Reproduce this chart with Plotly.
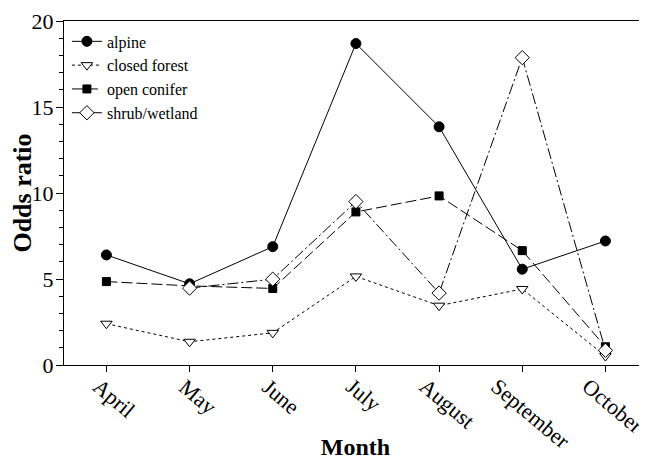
import plotly.graph_objects as go

months = ["April", "May", "June", "July", "August", "September", "October"]
alpine = [6.4, 4.72, 6.88, 18.69, 13.85, 5.57, 7.21]
closed_forest = [2.4, 1.35, 1.87, 5.15, 3.45, 4.42, 0.52]
open_conifer = [4.85, 4.6, 4.45, 8.9, 9.83, 6.65, 1.06]
shrub_wetland = [None, 4.47, 4.99, 9.5, 4.18, 17.87, 0.85]

FONT = "Liberation Serif, Times New Roman, serif"

series = [
    ("alpine", alpine, "solid", "circle", 10, "black"),
    ("closed forest", closed_forest, "dot", "triangle-down", 10, "white"),
    ("open conifer", open_conifer, "11px,4px", "square", 8, "black"),
    ("shrub/wetland", shrub_wetland, "11px,3px,2px,3px", "diamond", 11, "white"),
]

fig = go.Figure()
for name, vals, dash, sym, size, fill in series:
    fig.add_trace(go.Scatter(
        x=months, y=vals, name=name, mode="lines+markers",
        line=dict(color="black", width=1, dash=dash),
        marker=dict(symbol=sym, size=size, color=fill,
                    line=dict(color="black", width=1)),
        connectgaps=False,
    ))

# rotated month labels, centred under each tick
for m in months:
    fig.add_annotation(
        x=m, y=0, xref="x", yref="paper", text=m, showarrow=False,
        textangle=40, xanchor="center", yanchor="top", xshift=8, yshift=-6,
        font=dict(family=FONT, size=22, color="black"),
    )

fig.update_layout(
    width=639, height=458,
    margin=dict(l=56, r=0, t=13, b=101),
    paper_bgcolor="white", plot_bgcolor="white",
    font=dict(family=FONT, size=22, color="black"),
    showlegend=True,
    legend=dict(x=0.005, y=0.99, xanchor="left", yanchor="top",
                bgcolor="rgba(0,0,0,0)", font=dict(family=FONT, size=16),
                itemwidth=30, tracegroupgap=0),
    xaxis=dict(
        type="category", range=[-0.51, 6.5], automargin=False,
        showline=True, linecolor="black", linewidth=1, mirror=True,
        ticks="outside", ticklen=6, tickcolor="black", showticklabels=False,
        showgrid=False, zeroline=False,
        title=dict(text="<b>Month</b>", font=dict(family=FONT, size=24), standoff=67),
    ),
    yaxis=dict(
        range=[0, 20], tickvals=[0, 5, 10, 15, 20], automargin=False,
        showline=True, linecolor="black", linewidth=1,
        ticks="outside", ticklen=7, tickcolor="black", ticklabelstandoff=-2,
        minor=dict(dtick=1, ticks="outside", ticklen=4, tickcolor="black", showgrid=False),
        showgrid=False, zeroline=False,
        title=dict(text="<b>Odds ratio</b>", font=dict(family=FONT, size=26), standoff=4),
    ),
)

fig.write_html("out.html")
